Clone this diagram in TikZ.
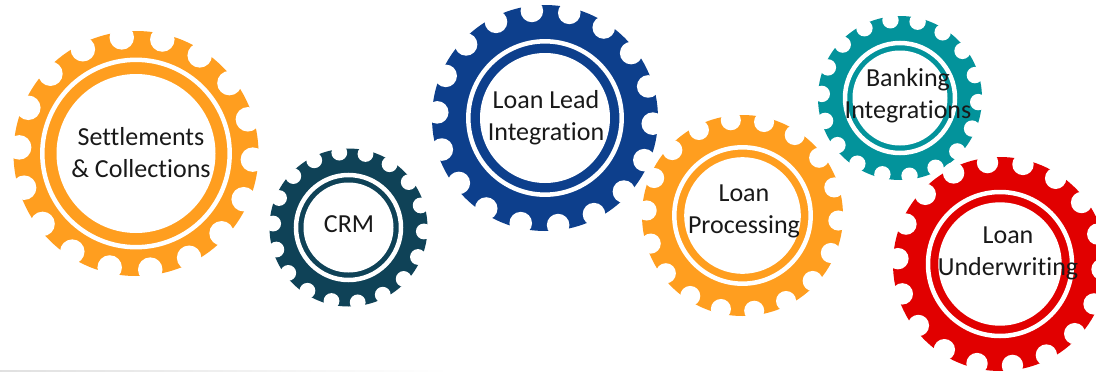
\documentclass[tikz,border=0pt]{standalone}
\usepackage{fontspec}
\setmainfont[Ligatures=NoCommon]{Carlito}
\usepackage{xcolor}
\usetikzlibrary{calc}
\definecolor{gear-orange}{HTML}{FF9E1F}
\definecolor{gear-navy}{HTML}{0F4257}
\definecolor{gear-blue}{HTML}{0D3F8C}
\definecolor{gear-teal}{HTML}{03939B}
\definecolor{gear-red}{HTML}{E10000}
\tikzset{
    gear-rim/.style = {circle, inner sep=0pt, fill=#1},
    gear-notch/.style = {circle, inner sep=0pt, fill=white},
    gear-ring/.style = {circle, inner sep=0pt, draw=white, line width=4.5pt},
    gear-hub/.style = {circle, inner sep=0pt, fill=white},
    gear-label/.style = {align=center, text=black!90, font=\fontsize{26}{32}\selectfont},
}
% #1 name, #2 x, #3 y, #4 radius, #5 ring radius, #6 hub radius, #7 colour
\newcommand{\gearwheel}[7]{
    \node [gear-rim=#7, minimum size=2*#4 pt] (#1) at (#2,#3) {};
    \foreach \k in {0,...,17}
        \node [gear-notch, minimum size=0.2*#4 pt] at ($(#1)+(77+20*\k:0.955*#4 pt)$) {};
    \node [gear-ring, minimum size=2*#5 pt] at (#1) {};
    \node [gear-hub, minimum size=2*#6 pt] at (#1) {};
}

\begin{document}
\begin{tikzpicture}[x=1pt, y=-1pt]
\useasboundingbox [clip] (0,0) rectangle (1096,372);
\fill [white] (0,0) rectangle (1096,372);
\shade [left color=black!12, right color=white] (0,370.5) rectangle (450,372);

\gearwheel{settlements}{136}{153.5}{122.5}{93.7}{79.5}{gear-orange}
\gearwheel{crm}{348.5}{227.5}{79}{52.5}{45}{gear-navy}
\gearwheel{lead}{545}{118}{113}{76.7}{65}{gear-blue}
\gearwheel{processing}{742.5}{215.5}{100.5}{68.2}{58.3}{gear-orange}
\gearwheel{banking}{900}{98}{82}{55}{47.5}{gear-teal}
\gearwheel{underwriting}{1000}{264}{107}{72}{61.7}{gear-red}

\node [gear-label] (settlements-text) at (141,153) {Settlements\\\& Collections};
\node [gear-label] (crm-text) at (349,224) {CRM};
\node [gear-label] (lead-text) at (546,118) {Loan Lead\\Integration};
\node [gear-label] (processing-text) at (744,211) {Loan\\Processing};
\node [gear-label] (banking-text) at (908,96) {Banking\\Integrations};
\node [gear-label] (underwriting-text) at (1008,253) {Loan\\Underwriting};
\end{tikzpicture}
\end{document}
